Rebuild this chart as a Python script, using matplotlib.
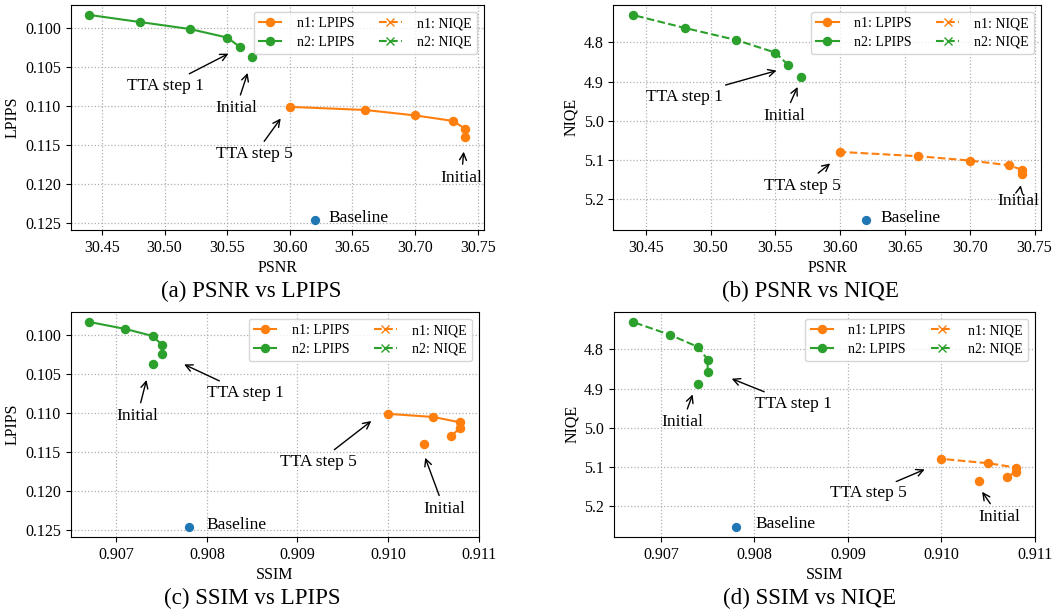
import matplotlib
matplotlib.use("Agg")
import matplotlib.pyplot as plt
from matplotlib.lines import Line2D
from matplotlib.ticker import MultipleLocator

plt.rcParams['font.family'] = ['Liberation Serif', 'DejaVu Serif']

# index 0 = Initial, 1..5 = TTA step 1..5
psnr_n1 = [30.74, 30.74, 30.73, 30.70, 30.66, 30.60]
psnr_n2 = [30.57, 30.56, 30.55, 30.52, 30.48, 30.44]
ssim_n1 = [0.9104, 0.9107, 0.9108, 0.9108, 0.9105, 0.9100]
ssim_n2 = [0.9074, 0.9075, 0.9075, 0.9074, 0.9071, 0.9067]
lpips_n1 = [0.1140, 0.1129, 0.1119, 0.1112, 0.1105, 0.1101]
lpips_n2 = [0.1037, 0.1024, 0.1012, 0.1001, 0.0992, 0.0983]
niqe_n1 = [5.136, 5.124, 5.113, 5.101, 5.090, 5.079]
niqe_n2 = [4.888, 4.858, 4.826, 4.794, 4.763, 4.730]

base_psnr = 30.62
base_ssim = 0.9078
base_lpips = 0.1246
base_niqe = 5.252

ORANGE = '#ff7f0e'
GREEN = '#2ca02c'
BLUE = '#1f77b4'

fig = plt.figure(figsize=(10.63, 6.14), dpi=100)

panels = [
    dict(x1=psnr_n1, x2=psnr_n2, y1=lpips_n1, y2=lpips_n2, bx=base_psnr, by=base_lpips,
         ls='-', xstep=0.05, ystep=0.005, xlabel='PSNR', ylabel='LPIPS',
         caption='(a) PSNR vs LPIPS', cap_xy=(0.2366, 0.525),
         rect=[0.0665, 0.6254, 0.3888, 0.3669],
         notes=[('TTA step 1', (30.553, 0.1031), (30.501, 0.1074)),
                ('Initial', (30.567, 0.1054), (30.557, 0.1103)),
                ('TTA step 5', (30.594, 0.1113), (30.572, 0.1162)),
                ('Initial', (30.739, 0.1155), (30.737, 0.1192))],
         btext=(30.631, 0.1244)),
    dict(x1=psnr_n1, x2=psnr_n2, y1=niqe_n1, y2=niqe_n2, bx=base_psnr, by=base_niqe,
         ls='--', xstep=0.05, ystep=0.1, xlabel='PSNR', ylabel='NIQE',
         caption='(b) PSNR vs NIQE', cap_xy=(0.762, 0.525),
         rect=[0.577, 0.6254, 0.4024, 0.3669],
         notes=[('TTA step 1', (30.553, 4.870), (30.480, 4.938)),
                ('Initial', (30.568, 4.907), (30.557, 4.987)),
                ('TTA step 5', (30.594, 5.104), (30.571, 5.165)),
                ('Initial', (30.7397, 5.157), (30.737, 5.205))],
         btext=(30.631, 5.2475)),
    dict(x1=ssim_n1, x2=ssim_n2, y1=lpips_n1, y2=lpips_n2, bx=base_ssim, by=base_lpips,
         ls='-', xstep=0.001, ystep=0.005, xlabel='SSIM', ylabel='LPIPS',
         caption='(c) SSIM vs LPIPS', cap_xy=(0.237, 0.0255),
         rect=[0.0665, 0.1254, 0.3841, 0.3669],
         notes=[('Initial', (0.90734, 0.1054), (0.90723, 0.1104)),
                ('TTA step 1', (0.90772, 0.1036), (0.90842, 0.1074)),
                ('TTA step 5', (0.90984, 0.1108), (0.90923, 0.1163)),
                ('Initial', (0.91040, 0.1154), (0.91062, 0.1223))],
         btext=(0.90800, 0.1244)),
    dict(x1=ssim_n1, x2=ssim_n2, y1=niqe_n1, y2=niqe_n2, bx=base_ssim, by=base_niqe,
         ls='--', xstep=0.001, ystep=0.1, xlabel='SSIM', ylabel='NIQE',
         caption='(d) SSIM vs NIQE', cap_xy=(0.762, 0.0255),
         rect=[0.5773, 0.1254, 0.3966, 0.3669],
         notes=[('Initial', (0.90735, 4.908), (0.90723, 4.986)),
                ('TTA step 1', (0.90773, 4.872), (0.90842, 4.938)),
                ('TTA step 5', (0.90985, 5.103), (0.90922, 5.167)),
                ('Initial', (0.91042, 5.157), (0.91062, 5.2265))],
         btext=(0.90801, 5.246)),
]

for p in panels:
    ax = fig.add_axes(p['rect'])
    for xs, ys, c in [(p['x1'], p['y1'], ORANGE), (p['x2'], p['y2'], GREEN)]:
        # trajectory over TTA steps, initial point on its own
        ax.plot(xs[1:], ys[1:], linestyle=p['ls'], color=c, lw=1.5,
                marker='o', markersize=5.8, zorder=3)
        ax.plot(xs[0], ys[0], linestyle='none', color=c, marker='o',
                markersize=5.8, zorder=3)
    ax.scatter([p['bx']], [p['by']], s=32, color=BLUE, zorder=3)
    ax.text(p['btext'][0], p['btext'][1], 'Baseline', fontsize=12.5,
            ha='left', va='center')

    for txt, tip, pos in p['notes']:
        ax.annotate(txt, xy=tip, xytext=pos, fontsize=12.5, ha='center', va='center',
                    arrowprops=dict(arrowstyle='->', color='black', lw=1))

    ax.invert_yaxis()
    ax.xaxis.set_major_locator(MultipleLocator(p['xstep']))
    ax.yaxis.set_major_locator(MultipleLocator(p['ystep']))
    ax.grid(True, linestyle=':', color='#b0b0b0', lw=0.9)
    ax.set_axisbelow(True)
    ax.tick_params(labelsize=11.5)
    ax.set_xlabel(p['xlabel'], fontsize=11.5, labelpad=3)
    ax.set_ylabel(p['ylabel'], fontsize=11.5, labelpad=3)

    handles = [Line2D([], [], color=ORANGE, ls='-', marker='o', markersize=5.8),
               Line2D([], [], color=GREEN, ls='-', marker='o', markersize=5.8),
               Line2D([], [], color=ORANGE, ls='--', marker='x', markersize=5.5),
               Line2D([], [], color=GREEN, ls='--', marker='x', markersize=5.5)]
    labels = ['n1: LPIPS', 'n2: LPIPS', 'n1: NIQE', 'n2: NIQE']
    ax.legend(handles, labels, ncol=2, loc='upper right', fontsize=10,
              handlelength=1.6, labelspacing=0.4, handletextpad=1.1,
              columnspacing=1.8)

    fig.text(p['cap_xy'][0], p['cap_xy'][1], p['caption'], fontsize=16.6,
             ha='center', va='center')

fig.savefig('out.png', dpi=100)
